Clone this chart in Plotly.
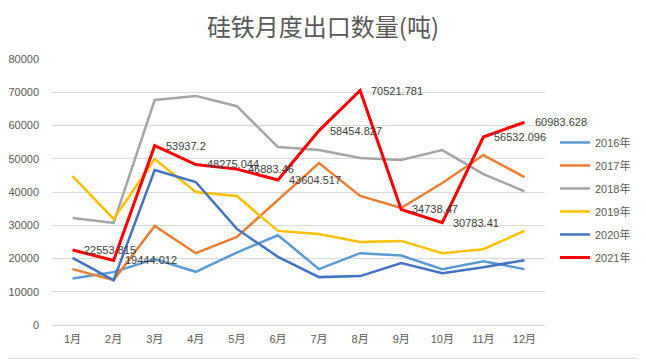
import plotly.graph_objects as go

months = ["1月", "2月", "3月", "4月", "5月", "6月", "7月", "8月", "9月", "10月", "11月", "12月"]
y2016 = [14000, 15900, 19800, 16000, 21800, 27000, 16800, 21600, 20900, 16800, 19200, 16800]
y2017 = [16800, 13500, 29800, 21600, 26500, 37600, 48700, 38800, 35200, 42700, 51100, 44500]
y2018 = [32200, 30700, 67700, 68900, 65800, 53500, 52600, 50200, 49600, 52600, 45400, 40200]
y2019 = [44800, 31900, 49900, 40000, 38800, 28300, 27400, 25000, 25300, 21600, 22800, 28300]
y2020 = [20200, 13500, 46600, 43000, 28900, 20500, 14400, 14700, 18600, 15600, 17400, 19500]
y2021 = [22553.815, 19444.012, 53937.2, 48275.044, 46883.46, 43604.517, 58454.827,
         70521.781, 34738.47, 30783.41, 56532.096, 60983.628]
labels2021 = ["22553.815", "19444.012", "53937.2", "48275.044", "46883.46", "43604.517",
              "58454.827", "70521.781", "34738.47", "30783.41", "56532.096", "60983.628"]

series = [
    ("2016年", y2016, "#5B9BD5", 2.5),
    ("2017年", y2017, "#ED7D31", 2.5),
    ("2018年", y2018, "#A5A5A5", 2.5),
    ("2019年", y2019, "#FFC000", 2.5),
    ("2020年", y2020, "#4472C4", 2.5),
    ("2021年", y2021, "#FF0000", 3),
]

FONT = "Liberation Sans, Noto Sans CJK SC, sans-serif"
fig = go.Figure()
for name, ys, color, w in series:
    fig.add_trace(go.Scatter(x=months, y=ys, name=name, mode="lines", legendgroup=name,
                             line=dict(color=color, width=w)))

annotations = []
for m, v, t in zip(months, y2021, labels2021):
    annotations.append(dict(x=m, y=v, text=t, showarrow=False, xanchor="left",
                            yanchor="middle", xshift=9,
                            font=dict(family=FONT, size=11, color="#404040")))

# page has an 8px body margin, so the figure is offset by 8px
W, H = 638, 353
L, R, T, B = 44, 101, 51, 36
pw, ph = W - L - R, H - T - B
xr = (W - 2.5 - L) / pw
yb = -(B - 2.5) / ph
fig.add_shape(type="line", xref="paper", yref="paper", x0=xr, x1=xr, y0=yb, y1=1 + T / ph,
              line=dict(color="#D9D9D9", width=1), layer="below")
fig.add_shape(type="line", xref="paper", yref="paper", x0=-L / pw, x1=xr, y0=yb, y1=yb,
              line=dict(color="#D9D9D9", width=1), layer="below")

fig.update_layout(
    width=W, height=H,
    margin=dict(l=L, r=R, t=T, b=B, autoexpand=False),
    paper_bgcolor="white", plot_bgcolor="white",
    title=dict(text="硅铁月度出口数量(吨)", x=(323 - 8) / W, xanchor="center", xref="container",
               y=1 - 20 / H, yanchor="middle",
               font=dict(family="Noto Sans CJK SC, sans-serif", size=24, color="#595959")),
    xaxis=dict(showgrid=False, showline=True, linecolor="#D9D9D9", ticks="",
               range=[-0.5, 11.5], ticklabelstandoff=4, automargin=False,
               tickfont=dict(family=FONT, size=11, color="#595959")),
    yaxis=dict(range=[0, 80000], dtick=10000, showgrid=True, gridcolor="#D9D9D9",
               gridwidth=1, zeroline=False, showline=False, ticks="",
               tickformat="d", ticklabelstandoff=12, automargin=False,
               tickfont=dict(family=FONT, size=11, color="#595959")),
    legend=dict(x=(547 - L) / pw, xanchor="left", y=0.47, yanchor="middle",
                font=dict(family=FONT, size=11, color="#595959"),
                tracegroupgap=4, itemwidth=30, bgcolor="rgba(0,0,0,0)"),
    annotations=annotations,
    showlegend=True,
)
fig.write_html("out.html")
